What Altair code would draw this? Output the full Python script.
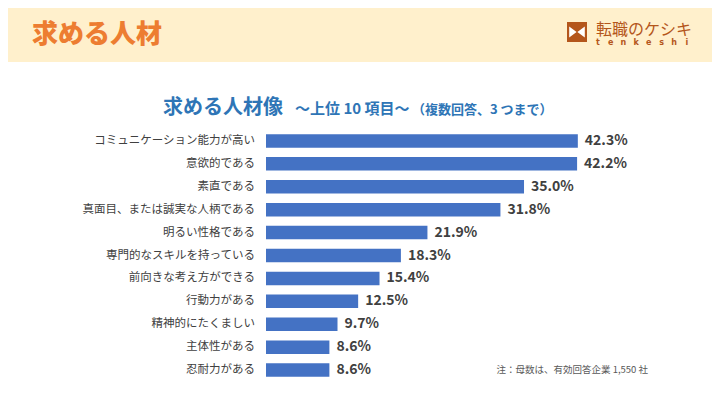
import altair as alt
import pandas as pd

labels = [
    "コミュニケーション能力が高い",
    "意欲的である",
    "素直である",
    "真面目、または誠実な人柄である",
    "明るい性格である",
    "専門的なスキルを持っている",
    "前向きな考え方ができる",
    "行動力がある",
    "精神的にたくましい",
    "主体性がある",
    "忍耐力がある",
]
values = [42.3, 42.2, 35.0, 31.8, 21.9, 18.3, 15.4, 12.5, 9.7, 8.6, 8.6]

header_title = "求める人材"
chart_title = "求める人材像"
chart_sub1 = "～上位 10 項目～"
chart_sub2 = "（複数回答、3 つまで）"
note_text = "注：母数は、有効回答企業 1,550 社"
logo_text = "転職のケシキ"
logo_letters = list("tenkeshi")

FONT = "Noto Sans CJK JP"
W, H = 704, 389

df = pd.DataFrame({"label": labels, "value": values})
one = pd.DataFrame({"a": [0]})
letters = pd.DataFrame({"ch": logo_letters, "i": list(range(len(logo_letters)))})

xscale = alt.Scale(domain=[0, 60.5], range=[258, 704])
yscale = alt.Scale(domain=labels, range=[121.5, 373.5], paddingInner=0.41, paddingOuter=0.205)

X = alt.X("value:Q", scale=xscale, axis=None)
Y = alt.Y("label:N", scale=yscale, axis=None, sort=labels)

base = alt.Chart(df)

header = alt.Chart(one).mark_rect(color="#FFF0CC").encode(
    x=alt.value(0), x2=alt.value(W), y=alt.value(0), y2=alt.value(54)
)

header_txt = alt.Chart(one).mark_text(
    align="left", baseline="alphabetic", fontSize=26, fontWeight=900,
    color="#ED7D31", font=FONT
).encode(x=alt.value(24), y=alt.value(34.5), text=alt.value(header_title))

icon_bg = alt.Chart(one).mark_point(
    shape="M-1,-1L1,-1L1,1L-1,1Z", size=400, filled=True, opacity=1,
    color="#B4561B", strokeWidth=0
).encode(x=alt.value(569), y=alt.value(24))

icon_fg = alt.Chart(one).mark_point(
    shape="M-0.78,-0.55L-0.04,0L-0.78,0.55Z M0.78,-0.55L0.04,0L0.78,0.55Z",
    size=400, filled=True, opacity=1, color="#FFFFFF", strokeWidth=0
).encode(x=alt.value(569), y=alt.value(24))

logo_txt = alt.Chart(one).mark_text(
    align="left", baseline="middle", fontSize=16, color="#B4561B", font=FONT
).encode(x=alt.value(588), y=alt.value(21.5), text=alt.value(logo_text))

logo_small = alt.Chart(letters).mark_text(
    align="center", baseline="middle", fontSize=8, fontWeight="bold",
    color="#B4561B", font="DejaVu Sans"
).transform_calculate(px="590 + datum.i * 12.7").encode(
    x=alt.X("px:Q", scale=None, axis=None), y=alt.value(35), text="ch:N"
)

t1 = alt.Chart(one).mark_text(
    align="left", baseline="alphabetic", fontSize=20, fontWeight="bold",
    color="#2E75B6", font=FONT
).encode(x=alt.value(155), y=alt.value(106), text=alt.value(chart_title))

t2 = alt.Chart(one).mark_text(
    align="left", baseline="alphabetic", fontSize=15, fontWeight="bold",
    color="#2E75B6", font=FONT
).encode(x=alt.value(287), y=alt.value(105.5), text=alt.value(chart_sub1))

t3 = alt.Chart(one).mark_text(
    align="left", baseline="alphabetic", fontSize=13, fontWeight="bold",
    color="#2E75B6", font=FONT
).encode(x=alt.value(404), y=alt.value(105.5), text=alt.value(chart_sub2))

note = alt.Chart(one).mark_text(
    align="right", baseline="middle", fontSize=9.5, color="#595959", font=FONT
).encode(x=alt.value(640), y=alt.value(362), text=alt.value(note_text))

bars = base.mark_bar(color="#4472C4").encode(x=X, x2=alt.datum(0), y=Y)

vals = base.mark_text(
    align="left", baseline="middle", dx=7, fontSize=14, fontWeight="bold",
    color="#404040", font=FONT
).transform_calculate(txt="format(datum.value, '.1f') + '%'").encode(
    x=X, y=Y, text="txt:N"
)

cats = base.mark_text(
    align="right", baseline="middle", fontSize=11.5, color="#404040", font=FONT
).encode(x=alt.value(247), y=Y, text="label:N")

chart = alt.layer(
    header, header_txt, icon_bg, icon_fg, logo_txt, logo_small,
    t1, t2, t3, bars, vals, cats, note
).properties(
    width=W, height=H, autosize=alt.AutoSizeParams(type="none"), padding=0,
    background="#FFFFFF"
).configure_view(stroke=None)

chart.save("out.html", embed_options={"renderer": "svg", "actions": False})
